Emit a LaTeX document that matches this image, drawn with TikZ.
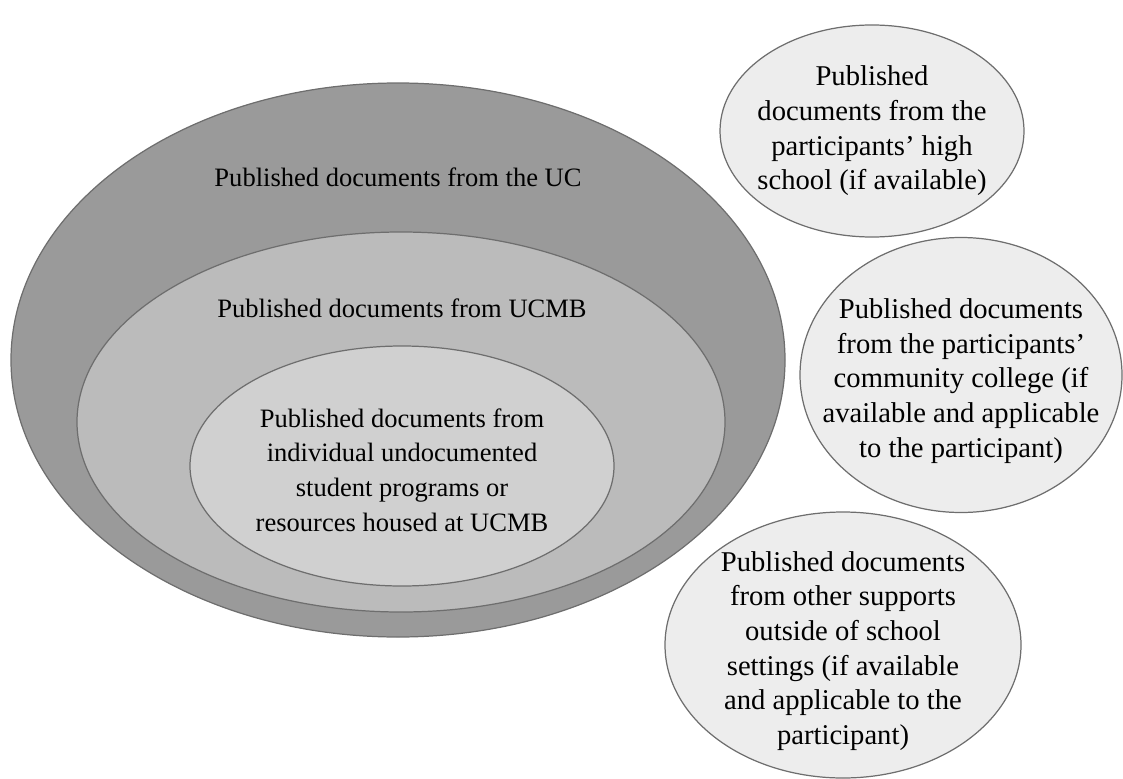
\documentclass[tikz,border=0pt]{standalone}
\usepackage{fontspec}
\setmainfont{Liberation Serif}
\usetikzlibrary{shapes.geometric}
\definecolor{EdgeGray}{HTML}{6E6E6E}
\definecolor{UcGray}{HTML}{9A9A9A}
\definecolor{UcmbGray}{HTML}{BBBBBB}
\definecolor{ProgGray}{HTML}{D0D0D0}
\definecolor{SideGray}{HTML}{EDEDED}

\begin{document}
\begin{tikzpicture}[x=1cm,y=1cm,
  ring/.style={ellipse,draw=EdgeGray,line width=0.7pt,inner sep=0pt},
  lbl/.style={align=center,font=\fontsize{15.1}{19.7}\selectfont},
  sidelbl/.style={align=center,font=\fontsize{16.3}{19.7}\selectfont}]
  \useasboundingbox (0,0) rectangle (22.46,-15.56);
  % nested sources
  \node[ring,fill=UcGray,minimum width=15.48cm,minimum height=11.08cm] (uc) at (7.96,-7.20) {};
  \node[ring,fill=UcmbGray,minimum width=12.96cm,minimum height=7.60cm] (ucmb) at (8.02,-8.44) {};
  \node[ring,fill=ProgGray,minimum width=8.48cm,minimum height=4.80cm] (prog) at (8.04,-9.32) {};
  \node[lbl] (ucText) at (7.96,-3.54) {Published documents from the UC};
  \node[lbl] (ucmbText) at (8.04,-6.16) {Published documents from UCMB};
  \node[lbl] (progText) at (8.04,-9.40) {Published documents from\\individual undocumented\\student programs or\\resources housed at UCMB};
  % outside sources
  \node[ring,fill=SideGray,minimum width=6.08cm,minimum height=4.24cm] (hs) at (17.44,-2.62) {};
  \node[ring,fill=SideGray,minimum width=6.44cm,minimum height=5.50cm] (cc) at (19.22,-7.50) {};
  \node[ring,fill=SideGray,minimum width=7.12cm,minimum height=5.32cm] (other) at (16.86,-12.90) {};
  \node[sidelbl] (hsText) at (hs) {Published\\documents from the\\participants’ high\\school (if available)};
  \node[sidelbl] (ccText) at ([yshift=-0.12cm]cc) {Published documents\\from the participants’\\community college (if\\available and applicable\\to the participant)};
  \node[sidelbl] (otherText) at ([yshift=-0.12cm]other) {Published documents\\from other supports\\outside of school\\settings (if available\\and applicable to the\\participant)};
\end{tikzpicture}
\end{document}
